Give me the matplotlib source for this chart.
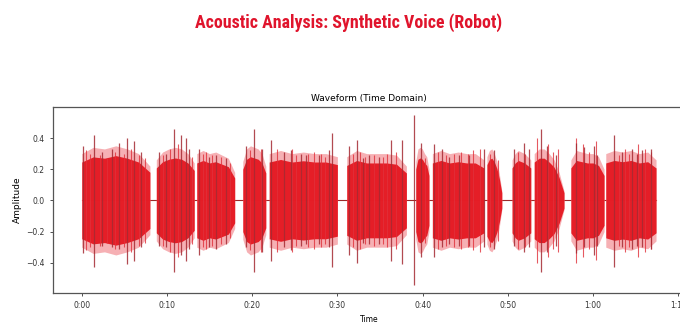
import numpy as np
import matplotlib
matplotlib.use('Agg')
import matplotlib.pyplot as plt
from matplotlib import font_manager

# Voiced bursts (seconds)
seg_start = [0.0, 8.75, 13.5, 18.9, 22.0, 31.1, 39.2, 41.15, 47.55, 50.5, 53.1, 57.4, 61.5]
seg_end = [8.0, 13.2, 17.95, 21.6, 30.0, 38.1, 40.75, 47.2, 49.3, 52.7, 56.6, 61.3, 67.4]
# outer envelope of each burst, read at evenly spaced points from start to end
seg_env = [
    [0.30, 0.34, 0.33, 0.35, 0.33, 0.30, 0.22],
    [0.26, 0.31, 0.33, 0.34, 0.33, 0.30, 0.24],
    [0.30, 0.32, 0.30, 0.31, 0.29, 0.27, 0.18],
    [0.25, 0.33, 0.35, 0.34, 0.33, 0.30, 0.22],
    [0.30, 0.32, 0.30, 0.31, 0.30, 0.30, 0.28],
    [0.28, 0.32, 0.30, 0.30, 0.30, 0.29, 0.22],
    [0.25, 0.33, 0.34, 0.33, 0.30, 0.28, 0.20],
    [0.30, 0.32, 0.30, 0.31, 0.30, 0.30, 0.26],
    [0.28, 0.32, 0.33, 0.30, 0.25, 0.17, 0.06],
    [0.26, 0.30, 0.32, 0.31, 0.30, 0.28, 0.26],
    [0.30, 0.33, 0.33, 0.30, 0.26, 0.18, 0.06],
    [0.26, 0.32, 0.31, 0.30, 0.30, 0.28, 0.20],
    [0.30, 0.32, 0.31, 0.32, 0.30, 0.31, 0.26],
]
# share of the envelope that is solid red
seg_core = [0.82, 0.8, 0.8, 0.8, 0.82, 0.8, 0.8, 0.8, 0.82, 0.8, 0.82, 0.8, 0.8]

# tall peaks (time, top, bottom)
spike_t = [0.15, 1.45, 2.4, 3.6, 4.4, 5.35, 6.15, 6.9,
           9.1, 9.85, 10.85, 11.6, 12.2, 12.6,
           13.75, 14.95, 15.7, 16.9,
           19.25, 20.2, 21.2,
           22.2, 23.75, 24.5, 25.7, 26.3, 27.85, 29.0, 29.4,
           31.4, 32.25, 32.95, 33.7, 34.9, 36.25, 37.6,
           39.05, 39.8,
           41.35, 42.3, 43.1, 44.3, 45.45, 47.2,
           48.4, 50.75, 51.9, 52.5,
           53.85, 54.65, 55.6,
           58.0, 58.95, 60.1, 60.5,
           62.5, 63.45, 64.6, 65.2, 65.8, 66.8]
spike_hi = [0.35, 0.42, 0.31, 0.33, 0.37, 0.40, 0.38, 0.31,
            0.31, 0.30, 0.46, 0.42, 0.40, 0.33,
            0.33, 0.28, 0.29, 0.27,
            0.35, 0.46, 0.33,
            0.39, 0.31, 0.32, 0.30, 0.29, 0.29, 0.32, 0.43,
            0.35, 0.39, 0.27, 0.29, 0.28, 0.39, 0.39,
            0.545, 0.37,
            0.36, 0.33, 0.28, 0.29, 0.29, 0.33,
            0.32, 0.33, 0.37, 0.33,
            0.46, 0.35, 0.29,
            0.37, 0.34, 0.35, 0.29,
            0.42, 0.31, 0.33, 0.30, 0.32, 0.33]
spike_lo = [-0.34, -0.43, -0.29, -0.30, -0.31, -0.41, -0.39, -0.30,
            -0.29, -0.30, -0.46, -0.35, -0.39, -0.31,
            -0.35, -0.30, -0.31, -0.28,
            -0.30, -0.46, -0.33,
            -0.39, -0.30, -0.32, -0.29, -0.28, -0.28, -0.30, -0.43,
            -0.35, -0.40, -0.27, -0.28, -0.28, -0.39, -0.41,
            -0.54, -0.36,
            -0.36, -0.30, -0.28, -0.29, -0.29, -0.30,
            -0.31, -0.29, -0.33, -0.30,
            -0.46, -0.33, -0.29,
            -0.34, -0.30, -0.35, -0.29,
            -0.43, -0.30, -0.31, -0.29, -0.30, -0.31]

# smaller strokes inside the bursts (time, half height)
minor_t = [0.5, 1.0, 2.2, 2.95, 3.9, 4.9, 5.8, 6.7, 7.4,
           9.5, 10.4, 11.3, 12.9,
           14.2, 14.6, 15.3, 16.3, 17.4,
           19.7, 21.0,
           22.95, 24.7, 25.2, 26.5, 27.3, 28.05, 28.6,
           31.8, 32.6, 33.3, 34.3, 35.3, 35.8, 36.9,
           40.3,
           41.8, 42.7, 43.7, 44.5, 45.3, 45.9, 46.7,
           47.9, 48.8,
           51.2, 52.0,
           53.4, 54.7, 55.3, 55.9,
           58.05, 58.8, 59.5, 60.3,
           63.0, 63.7, 64.2, 65.3, 66.1, 66.85]
minor_a = [0.32, 0.30, 0.29, 0.27, 0.31, 0.30, 0.33, 0.29, 0.27,
           0.29, 0.33, 0.36, 0.28,
           0.30, 0.31, 0.29, 0.28, 0.24,
           0.32, 0.33,
           0.33, 0.33, 0.29, 0.30, 0.31, 0.30, 0.28,
           0.30, 0.31, 0.28, 0.29, 0.28, 0.30, 0.31,
           0.27,
           0.31, 0.29, 0.30, 0.31, 0.30, 0.32, 0.33,
           0.30, 0.26,
           0.31, 0.30,
           0.40, 0.36, 0.31, 0.33,
           0.40, 0.36, 0.31, 0.38,
           0.29, 0.33, 0.30, 0.36, 0.33, 0.31]

duration = 67.4
xtick_pos = [0, 10, 20, 30, 40, 50, 60, 70]
xtick_labels = ['0:00', '0:10', '0:20', '0:30', '0:40', '0:50', '1:00', '1:10']
ytick_pos = [-0.4, -0.2, 0.0, 0.2, 0.4]

# pick a narrow face if one is around, the reference title is condensed
names = {f.name for f in font_manager.fontManager.ttflist}
title_font = 'DejaVu Sans'
for cand in ['DejaVu Sans Condensed', 'Liberation Sans Narrow', 'Roboto Condensed']:
    if cand in names:
        title_font = cand
        break

fig = plt.figure(figsize=(6.8, 3.26), dpi=100)
ax = fig.add_axes([0.078, 0.101, 0.929, 0.571])

# baseline through the silences
ax.plot([0, duration], [0, 0], color='#9c2a2a', lw=0.8, zorder=1)

for i in range(len(seg_start)):
    env = np.array(seg_env[i])
    ts = np.linspace(seg_start[i], seg_end[i], len(env))
    xs = np.concatenate([[ts[0]], ts, [ts[-1]]])
    outer = np.concatenate([[0], env, [0]])
    core = outer * seg_core[i]
    ax.fill_between(xs, -outer, outer, color='#f5a3a7', lw=0, alpha=0.85, zorder=2)
    ax.fill_between(xs, -core, core, color='#e5161f', lw=0, alpha=0.95, zorder=3)

ax.vlines(minor_t, -np.array(minor_a), minor_a, color='#e0303a', lw=0.8, alpha=0.8, zorder=3.5)
ax.vlines(spike_t, spike_lo, spike_hi, color='#a52a32', lw=0.9, alpha=0.85, zorder=4)

ax.set_xticks(xtick_pos)
ax.set_xticklabels(xtick_labels)
ax.set_yticks(ytick_pos)
ax.tick_params(labelsize=5.5, length=2.5, width=0.6, colors='#333333')
for s in ax.spines.values():
    s.set_color('#555555')
    s.set_linewidth(0.9)

ax.set_title('Waveform (Time Domain)', fontsize=6.5, pad=4)
ax.set_xlabel('Time', fontsize=5.5, labelpad=3)
ax.set_ylabel('Amplitude', fontsize=6.5, labelpad=3)

fig.text(0.513, 0.93, 'Acoustic Analysis: Synthetic Voice (Robot)', ha='center', va='center',
         fontsize=12.9, fontweight='bold', color='#e0142c', family=title_font)

fig.savefig('out.png', dpi=100)
